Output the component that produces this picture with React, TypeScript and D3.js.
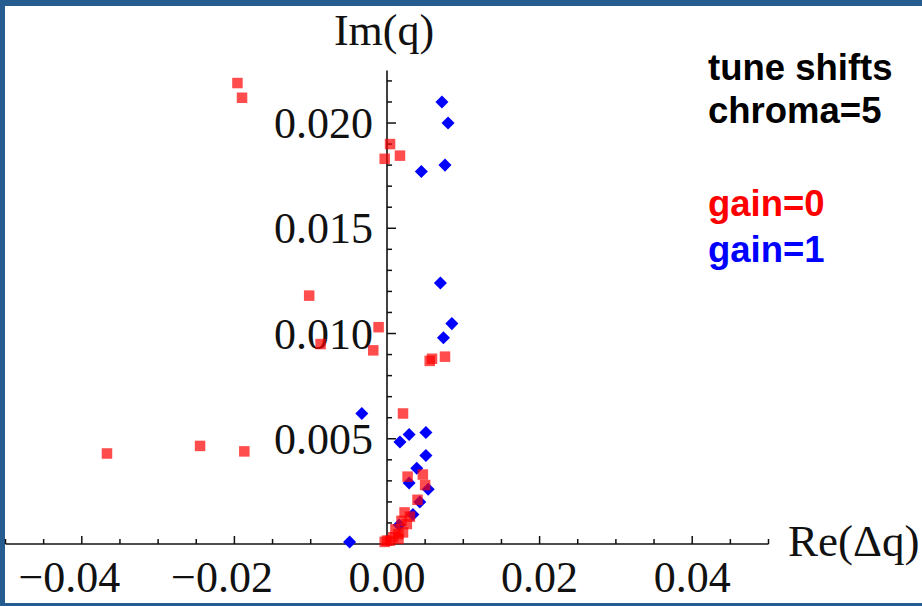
import * as d3 from 'd3'

// tune shifts, chroma = 5  (Re(dq), Im(q))
const gain0: [number, number][] = [
  [-0.0196, 0.0219], [-0.0190, 0.0212], [0.0004, 0.0190], [-0.0003, 0.0183],
  [0.0017, 0.01845], [-0.0102, 0.0118], [-0.0011, 0.0103], [-0.0087, 0.0095],
  [-0.0018, 0.0092], [0.0056, 0.0087], [0.0059, 0.0088], [0.0076, 0.0089],
  [-0.0367, 0.0043], [-0.0245, 0.00466], [-0.0187, 0.0044], [0.0021, 0.0062],
  [0.0027, 0.0032], [0.0047, 0.0033], [0.0050, 0.0028], [0.0040, 0.0021],
  [0.0023, 0.0015], [0.0030, 0.0013], [0.0026, 0.00095], [0.0021, 0.00055],
  [0.0015, 0.00047], [0.0008, 0.00032], [0.0004, 0.00016], [0.0000, 0.00016],
  [0.0015, 0.00024], [-0.0003, 0.0001], [0.0011, 0.0007], [0.0019, 0.0011],
]

const gain1: [number, number][] = [
  [0.0072, 0.0210], [0.0080, 0.0200], [0.0076, 0.0180], [0.0045, 0.0177],
  [0.0070, 0.0124], [0.0085, 0.01047], [0.0074, 0.0098], [-0.0033, 0.0062],
  [0.0017, 0.00485], [0.0029, 0.0052], [0.0051, 0.0053], [0.0051, 0.0042],
  [0.0039, 0.0036], [0.0029, 0.0029], [0.0054, 0.0026], [0.0043, 0.0020],
  [0.0034, 0.0014], [0.0016, 0.0009], [-0.0049, 0.0001],
]

const xTickLabels = [-0.04, -0.02, 0, 0.02, 0.04]
const yTickLabels = [0.005, 0.01, 0.015, 0.02]
const notes = ['tune shifts', 'chroma=5']
const legend = [{ label: 'gain=0', color: '#ff0000' }, { label: 'gain=1', color: '#0000ff' }]

const W = 922, H = 606
const serif = '"Liberation Serif", "Times New Roman", serif'
const sans = '"Liberation Sans", Arial, sans-serif'

export default function App() {
  const x = d3.scaleLinear().domain([-0.05, 0.05]).range([5.5, 768.5])
  const y = d3.scaleLinear().domain([0, 0.0225]).range([544, 70.4])
  const x0 = x(0), y0 = y(0)

  // minor ticks every 0.005 on x, every 0.001 on y
  const xTicks = d3.range(-10, 11).map(i => i * 0.005)
  const yTicks = d3.range(1, 23).map(i => i * 0.001)
  const isMajorX = (v: number) => Math.abs(Math.round(v / 0.02) * 0.02 - v) < 1e-9
  const isMajorY = (v: number) => Math.abs(Math.round(v / 0.005) * 0.005 - v) < 1e-9

  const diamond = d3.symbol().type(d3.symbolSquare).size(85)()
  const sq = 10.5

  return (
    <div style={{ position: 'fixed', left: 0, top: 0 }}>
      <svg width={W} height={H} style={{ display: 'block', background: '#fff' }}>
        {/* frame */}
        <rect x={0} y={0} width={W} height={6} fill="#265d91" />
        <rect x={0} y={0} width={5} height={H} fill="#265d91" />
        <rect x={0} y={603} width={W} height={3} fill="#265d91" />

        {/* axes */}
        <line x1={x(-0.05)} x2={x(0.05)} y1={y0} y2={y0} stroke="#111" strokeWidth={1.6} />
        <line x1={x0} x2={x0} y1={y(0.0225)} y2={y0} stroke="#111" strokeWidth={1.6} />
        {xTicks.filter(v => Math.abs(v) > 1e-9).map(v => (
          <line key={'xt' + v} x1={x(v)} x2={x(v)} y1={y0} y2={y0 - (isMajorX(v) ? 8 : 5)}
            stroke="#111" strokeWidth={1.5} />
        ))}
        {yTicks.map(v => (
          <line key={'yt' + v} x1={x0} x2={x0 + (isMajorY(v) ? 9 : 5)} y1={y(v)} y2={y(v)}
            stroke="#111" strokeWidth={1.5} />
        ))}
        {xTickLabels.map(v => (
          <text key={'xl' + v} x={x(v) - (v < 0 ? 12.4 : 0)} y={592} textAnchor="middle"
            fontFamily={serif} fontSize={44} fill="#111">
            {(v < 0 ? '\u2212' : '') + Math.abs(v).toFixed(2)}
          </text>
        ))}
        {yTickLabels.map(v => (
          <text key={'yl' + v} x={373} y={y(v) + 15} textAnchor="end"
            fontFamily={serif} fontSize={44} fill="#111">
            {v.toFixed(3)}
          </text>
        ))}
        <text x={384} y={45} textAnchor="middle" fontFamily={serif} fontSize={44} fill="#111">Im(q)</text>
        <text x={788} y={556} fontFamily={serif} fontSize={45} fill="#111">Re(Δq)</text>

        {/* points */}
        {gain1.map((d, i) => (
          <path key={'b' + i} d={diamond as string}
            transform={`translate(${x(d[0])},${y(d[1])}) rotate(45)`} fill="#0000ff" />
        ))}
        {gain0.map((d, i) => (
          <rect key={'r' + i} x={x(d[0]) - sq / 2} y={y(d[1]) - sq / 2} width={sq} height={sq}
            fill="#ff0000" fillOpacity={0.7} />
        ))}

        {/* notes */}
        {notes.map((t, i) => (
          <text key={t} x={708} y={80 + i * 43} fontFamily={sans} fontWeight="bold" fontSize={36.5} fill="#000">{t}</text>
        ))}
        {legend.map((l, i) => (
          <text key={l.label} x={708} y={216 + i * 46} fontFamily={sans} fontWeight="bold" fontSize={36.5} fill={l.color}>{l.label}</text>
        ))}
      </svg>
    </div>
  )
}
